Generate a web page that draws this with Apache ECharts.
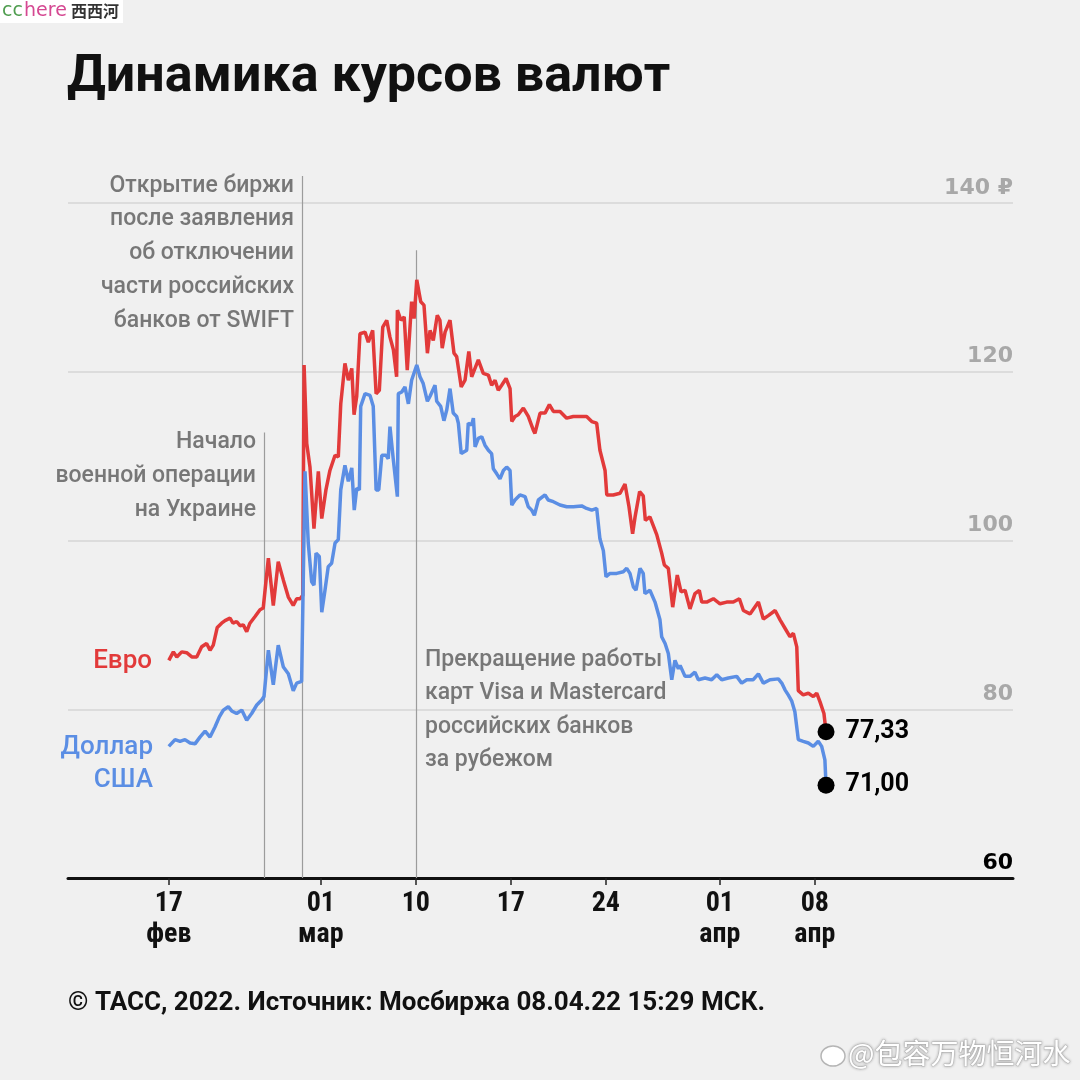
<!DOCTYPE html>
<html><head><meta charset="utf-8">
<script src="https://cdn.jsdelivr.net/npm/echarts@6/dist/echarts.min.js"></script>
<style>html,body{margin:0;padding:0;background:#f0f0f0}#c{width:1080px;height:1080px}</style>
</head><body><div id="c"></div>
<script>
// Time in trading days since 17 Feb 2022 (intraday fractions), rates in RUB
const eurTime = [0, 0.24, 0.42, 0.68, 0.94, 1.21, 1.47, 1.73, 1.99, 2.17,
  2.34, 2.55, 2.78, 2.96, 3.22, 3.38, 3.57, 3.75, 3.92, 4.10,
  4.27, 4.54, 4.80, 4.97, 5.24, 5.50, 5.76, 6.03, 6.29, 6.55,
  6.73, 6.91, 7.05, 7.12, 7.26, 7.43, 7.64, 7.87, 8.05, 8.27,
  8.48, 8.75, 8.92, 9.05, 9.27, 9.45, 9.63, 9.75, 9.89, 10.06,
  10.33, 10.50, 10.73, 10.91, 11.08, 11.26, 11.47, 11.64, 11.82, 11.99,
  12.03, 12.22, 12.39, 12.55, 12.78, 12.91, 13.05, 13.26, 13.43, 13.61,
  13.75, 13.92, 14.13, 14.27, 14.39, 14.54, 14.80, 15.01, 15.15, 15.39,
  15.59, 15.79, 15.94, 16.29, 16.55, 16.82, 16.99, 17.17, 17.34, 17.52,
  17.75, 17.96, 18.05, 18.22, 18.39, 18.66, 18.92, 19.18, 19.27, 19.54,
  19.80, 20.03, 20.24, 20.59, 20.94, 21.29, 21.64, 21.99, 22.26, 22.52,
  22.69, 22.96, 23.05, 23.39, 23.75, 24.01, 24.22, 24.41, 24.54, 24.78,
  24.97, 25.08, 25.32, 25.68, 25.94, 26.08, 26.29, 26.52, 26.76, 26.96,
  27.17, 27.43, 27.69, 27.92, 28.05, 28.31, 28.66, 29.01, 29.36, 29.71,
  30.03, 30.24, 30.59, 31.03, 31.29, 31.55, 31.91, 32.17, 32.43, 32.69,
  32.87, 33.05, 33.13, 33.39, 33.66, 33.92, 34.10, 34.27, 34.48, 34.59];
const eurRate = [85.8, 86.8, 86.2, 86.8, 86.7, 86.2, 86.2, 87.4, 87.8, 87.0,
  87.6, 89.7, 90.2, 90.5, 90.8, 90.2, 90.4, 89.9, 90.0, 89.2,
  90.2, 91.0, 91.8, 92.0, 97.9, 92.3, 97.5, 95.3, 93.3, 92.3,
  93.1, 93.1, 93.5, 120.8, 111.5, 108.7, 101.4, 108.2, 102.6, 106.0,
  108.3, 110.1, 109.9, 116.2, 121.0, 119.0, 120.4, 114.9, 117.1, 124.5,
  124.7, 123.5, 124.9, 117.4, 117.8, 125.3, 126.1, 124.1, 122.6, 119.4,
  127.3, 126.1, 126.5, 120.2, 128.3, 126.3, 130.9, 128.3, 127.9, 122.2,
  124.9, 123.7, 126.7, 126.1, 122.8, 124.7, 126.1, 122.2, 121.8, 118.2,
  119.0, 122.4, 119.4, 121.4, 119.8, 119.6, 118.4, 119.0, 117.8, 118.4,
  119.2, 118.0, 114.1, 114.7, 114.9, 115.7, 114.7, 113.1, 112.7, 115.1,
  115.1, 116.1, 115.3, 115.3, 114.5, 114.7, 114.7, 114.7, 114.1, 113.9,
  110.7, 108.3, 105.4, 105.4, 105.6, 106.7, 104.0, 100.8, 102.8, 105.8,
  105.3, 102.4, 102.8, 100.7, 98.5, 97.1, 96.7, 92.1, 95.9, 93.9,
  94.1, 91.9, 93.7, 94.1, 92.7, 92.7, 93.1, 92.5, 92.7, 92.7,
  93.1, 91.7, 91.3, 92.7, 90.7, 91.1, 91.7, 90.6, 89.6, 88.6,
  89.0, 87.4, 82.2, 81.7, 81.9, 81.5, 81.9, 80.9, 79.5, 77.33];
const usdTime = [0, 0.33, 0.59, 0.85, 1.12, 1.38, 1.64, 1.91, 2.17, 2.43,
  2.66, 2.87, 3.13, 3.31, 3.57, 3.84, 4.10, 4.36, 4.63, 4.89,
  5.01, 5.24, 5.50, 5.76, 6.03, 6.29, 6.55, 6.73, 6.99, 7.06,
  7.17, 7.34, 7.52, 7.64, 7.75, 7.92, 8.05, 8.22, 8.39, 8.57,
  8.75, 8.92, 9.05, 9.27, 9.45, 9.63, 9.76, 9.89, 10.03, 10.10,
  10.33, 10.59, 10.76, 10.91, 11.05, 11.21, 11.43, 11.55, 11.64, 11.82,
  12.03, 12.08, 12.26, 12.43, 12.61, 12.78, 13.05, 13.22, 13.39, 13.61,
  13.75, 14.01, 14.10, 14.31, 14.48, 14.63, 14.80, 14.97, 15.15, 15.24,
  15.39, 15.68, 15.76, 15.94, 16.03, 16.12, 16.29, 16.47, 16.64, 16.82,
  16.99, 17.08, 17.26, 17.43, 17.61, 17.78, 17.96, 18.05, 18.22, 18.48,
  18.75, 18.92, 19.10, 19.24, 19.45, 19.80, 19.97, 20.24, 20.59, 20.94,
  21.29, 21.73, 21.99, 22.26, 22.52, 22.69, 22.87, 23.01, 23.22, 23.57,
  23.92, 24.10, 24.27, 24.45, 24.59, 24.80, 24.97, 25.06, 25.32, 25.59,
  25.85, 25.94, 26.12, 26.29, 26.47, 26.64, 26.82, 26.91, 27.17, 27.43,
  27.69, 27.87, 28.22, 28.57, 28.84, 29.10, 29.45, 29.89, 30.15, 30.42,
  30.76, 31.03, 31.29, 31.64, 32.08, 32.26, 32.43, 32.60, 32.78, 32.95,
  33.13, 33.39, 33.66, 33.92, 34.18, 34.36, 34.53, 34.59];
const usdRate = [75.6, 76.4, 76.2, 76.4, 76.0, 75.9, 76.7, 77.4, 76.7, 77.9,
  79.1, 79.9, 80.3, 79.8, 79.5, 79.9, 78.7, 79.5, 80.5, 81.1,
  81.5, 87.0, 82.9, 87.6, 85.0, 84.2, 82.2, 83.1, 83.3, 83.5,
  108.2, 99.7, 95.1, 94.7, 98.5, 98.1, 91.5, 94.1, 96.9, 97.3,
  99.7, 100.1, 106.0, 108.9, 107.0, 108.6, 103.6, 106.2, 106.0, 115.9,
  117.4, 117.2, 115.9, 106.0, 106.0, 110.1, 110.1, 109.7, 113.5, 109.5,
  105.2, 117.4, 117.6, 118.2, 116.2, 119.0, 120.8, 119.4, 118.6, 116.5,
  117.1, 118.4, 116.5, 115.9, 114.2, 115.5, 118.0, 115.1, 114.7, 113.9,
  110.3, 110.7, 113.9, 113.7, 114.5, 111.1, 112.1, 112.3, 111.3, 110.7,
  110.3, 108.5, 107.9, 107.3, 108.3, 108.7, 108.3, 104.2, 104.8, 105.4,
  105.2, 104.0, 103.6, 103.0, 104.8, 105.4, 104.8, 104.6, 104.2, 104.0,
  104.0, 104.1, 103.8, 103.6, 103.8, 100.2, 98.8, 95.7, 96.1, 96.1,
  96.3, 96.7, 96.1, 94.5, 94.1, 96.7, 96.1, 93.7, 94.1, 92.7,
  90.6, 88.6, 87.8, 86.6, 83.5, 85.8, 84.8, 85.2, 83.9, 83.9,
  84.4, 83.5, 83.7, 83.5, 84.1, 83.5, 83.7, 83.9, 83.1, 83.5,
  83.5, 84.2, 83.1, 83.5, 83.6, 83.1, 82.3, 81.7, 81.0, 79.7,
  76.4, 76.2, 76.0, 75.6, 76.2, 75.6, 74.0, 71.00];

const tickDays = [0, 8, 13, 18, 23, 29, 34];
const tickLabels = ['17\nфев', '01\nмар', '10', '17', '24', '01\nапр', '08\nапр'];
const yLabels = {60: '60', 80: '80', 100: '100', 120: '120', 140: '140 ₽'};
// event markers: trading day and value where the marker line starts
const eventDays = [5, 7, 13];
const eventTops = [112.8, 143.2, 134.4];

const RED = '#e23a3a', BLUE = '#5b8ee4';
const labelMap = {};
tickDays.forEach((d, i) => { labelMap[d] = tickLabels[i]; });
const zip = (t, v) => t.map((d, i) => [d, v[i]]);
const NARROW = "'Liberation Sans Narrow', 'Roboto Condensed', 'DejaVu Sans Condensed', Roboto, sans-serif";

const chart = echarts.init(document.getElementById('c'), null, {renderer: 'canvas'});
chart.setOption({
  backgroundColor: '#f0f0f0',
  animation: false,
  grid: {left: 68, right: 67, top: 203, bottom: 202},
  xAxis: {
    type: 'value', min: -5.305, max: 44.43,
    axisLine: {show: true, onZero: false, lineStyle: {color: '#111', width: 3}},
    axisTick: {show: true, customValues: tickDays, length: 7, lineStyle: {color: '#222', width: 1.5}},
    axisLabel: {
      customValues: tickDays,
      formatter: v => labelMap[v] !== undefined ? labelMap[v] : '',
      color: '#111', fontSize: 28, fontWeight: 'bold', fontFamily: NARROW, lineHeight: 31, margin: 10
    },
    splitLine: {show: false}
  },
  yAxis: {
    type: 'value', position: 'right', min: 60, max: 140, interval: 20,
    axisLine: {show: false}, axisTick: {show: false},
    splitLine: {show: true, lineStyle: {color: '#d6d6d6', width: 1.5}},
    axisLabel: {
      inside: true, margin: 0, verticalAlign: 'bottom', align: 'right',
      formatter: v => v === 60 ? '{k|' + yLabels[v] + '}' : '{g|' + (yLabels[v] || '') + '}',
      rich: {
        g: {color: '#a8a8a8', fontSize: 22, fontWeight: 'bold', fontFamily: 'DejaVu Sans', padding: [0, 0, 4, 0]},
        k: {color: '#000', fontSize: 22, fontWeight: 'bold', fontFamily: 'DejaVu Sans', padding: [0, 0, 4, 0]}
      }
    }
  },
  series: [
    {type: 'line', name: 'Евро', data: zip(eurTime, eurRate), showSymbol: false, symbol: 'none',
      lineStyle: {color: RED, width: 3.5}, itemStyle: {color: RED}, z: 3},
    {type: 'line', name: 'Доллар США', data: zip(usdTime, usdRate), showSymbol: false, symbol: 'none',
      lineStyle: {color: BLUE, width: 3.5}, itemStyle: {color: BLUE}, z: 3},
    {type: 'scatter', data: [[eurTime[eurTime.length - 1], eurRate[eurRate.length - 1]],
                             [usdTime[usdTime.length - 1], usdRate[usdRate.length - 1]]],
      symbolSize: 17, itemStyle: {color: '#000', opacity: 1}, z: 5,
      label: {show: true, position: 'right', distance: 11,
        formatter: p => p.value[1].toFixed(2).replace('.', ','),
        color: '#000', fontSize: 25, fontWeight: 'bold', fontFamily: 'Roboto, sans-serif'}}
  ]
});

const px = (d, v) => chart.convertToPixel({gridIndex: 0}, [d, v]);
const graphics = [];
eventDays.forEach((d, i) => {
  const a = px(d, eventTops[i]), b = px(d, 60);
  graphics.push({type: 'line', z: 1, silent: true,
    shape: {x1: Math.round(a[0]) + 0.5, y1: a[1], x2: Math.round(b[0]) + 0.5, y2: b[1]},
    style: {stroke: '#9c9c9c', lineWidth: 1.2}});
});
const ann = (text, x, y, align, lh) => ({type: 'text', x: x, y: y, z: 10, silent: true,
  style: {text: text, fill: '#777', fontSize: 23, fontWeight: 500, fontFamily: 'Roboto, sans-serif',
    textAlign: align, textVerticalAlign: 'top', lineHeight: lh}});
graphics.push(
  {type: 'text', x: 67, y: 78, z: 10, style: {text: 'Динамика курсов валют', fill: '#111',
    fontSize: 52, fontWeight: 'bold', fontFamily: 'Roboto, sans-serif', textVerticalAlign: 'middle'}},
  ann('Открытие биржи\nпосле заявления\nоб отключении\nчасти российских\nбанков от SWIFT', 294, 169, 'right', 33.8),
  ann('Начало\nвоенной операции\nна Украине', 256, 425, 'right', 34),
  ann('Прекращение работы\nкарт Visa и Mastercard\nроссийских банков\nза рубежом', 425, 643, 'left', 33.5),
  {type: 'text', x: 152, y: 661, z: 10, style: {text: 'Евро', fill: RED, fontSize: 26, fontWeight: 500,
    fontFamily: 'Roboto, sans-serif', textAlign: 'right', textVerticalAlign: 'middle'}},
  {type: 'text', x: 153, y: 731, z: 10, style: {text: 'Доллар\nСША', fill: BLUE, fontSize: 26, fontWeight: 500,
    fontFamily: 'Roboto, sans-serif', textAlign: 'right', textVerticalAlign: 'top', lineHeight: 33}},
  {type: 'text', x: 68, y: 1003, z: 10, style: {text: '© ТАСС, 2022. Источник: Мосбиржа 08.04.22 15:29 МСК.',
    fill: '#111', fontSize: 26, fontWeight: 'bold', fontFamily: 'Roboto, sans-serif', textVerticalAlign: 'middle'}},
  // watermarks
  {type: 'rect', z: 10, shape: {x: 0, y: 0, width: 123, height: 23}, style: {fill: '#ffffff'}},
  {type: 'text', x: 2, y: 11, z: 11, style: {text: 'cc', fill: '#4f9d4f', fontSize: 19, fontFamily: 'DejaVu Sans, sans-serif', textVerticalAlign: 'middle'}},
  {type: 'text', x: 24, y: 11, z: 11, style: {text: 'here', fill: '#d54892', fontSize: 19, fontFamily: 'DejaVu Sans, sans-serif', textVerticalAlign: 'middle'}},
  {type: 'text', x: 71, y: 11, z: 11, style: {text: '西西河', fill: '#333', fontSize: 16, fontWeight: 'bold', fontFamily: 'Noto Sans CJK SC, sans-serif', textVerticalAlign: 'middle'}},
  {type: 'ellipse', z: 10, shape: {cx: 833, cy: 1056, rx: 12, ry: 10}, style: {fill: '#ffffff', stroke: '#b5b5b5', lineWidth: 1.5}},
  {type: 'text', x: 848, y: 1053, z: 11, style: {text: '@包容万物恒河水', fill: '#ffffff', fontSize: 28,
    fontFamily: 'Noto Sans CJK SC, sans-serif', textVerticalAlign: 'middle',
    stroke: '#c4c4c4', lineWidth: 1, textShadowColor: 'rgba(0,0,0,0.25)', textShadowBlur: 3}}
);
chart.setOption({graphic: graphics});
</script></body></html>
